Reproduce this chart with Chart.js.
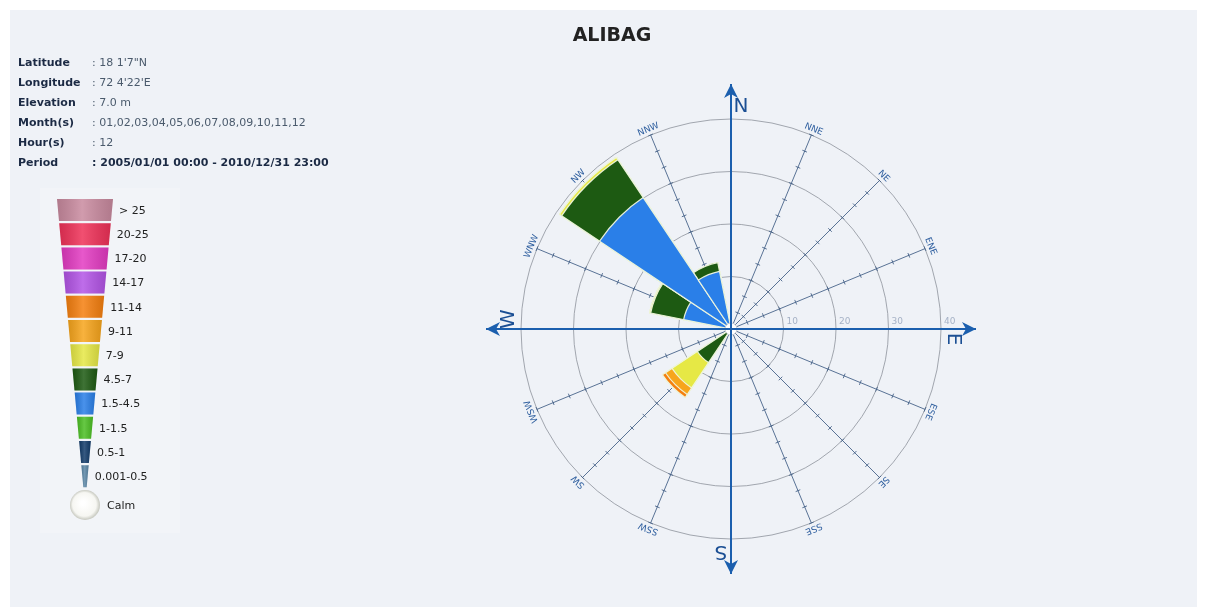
<!DOCTYPE html>
<html>
<head>
<meta charset="utf-8">
<script src="https://cdn.jsdelivr.net/npm/chart.js@4.4.0/dist/chart.umd.min.js"></script>
<style>
  html, body { margin: 0; padding: 0; background: #ffffff; }
  #wrap { position: relative; width: 1208px; height: 607px; }
</style>
</head>
<body>
<div id="wrap"><canvas id="windrose" width="1208" height="607"></canvas></div>
<script>
const stationName = 'ALIBAG';
const infoLabels = ['Latitude', 'Longitude', 'Elevation', 'Month(s)', 'Hour(s)', 'Period'];
const infoValues = [': 18 1\'7"N', ": 72 4'22'E", ': 7.0 m', ': 01,02,03,04,05,06,07,08,09,10,11,12', ': 12', ': 2005/01/01 00:00 - 2010/12/31 23:00'];

const directions = ['N', 'NNE', 'NE', 'ENE', 'E', 'ESE', 'SE', 'SSE', 'S', 'SSW', 'SW', 'WSW', 'W', 'WNW', 'NW', 'NNW'];
const ringTicks = [10, 20, 30, 40];

const speedBins = ['0.001-0.5', '0.5-1', '1-1.5', '1.5-4.5', '4.5-7', '7-9', '9-11', '11-14', '14-17', '17-20', '20-25', '> 25'];
const binColors = ['#5b86a6', '#133c6b', '#4cbf24', '#2a7fe8', '#1d5a12', '#e6e845', '#f7a51c', '#f57f0f', '#b354e6', '#e33bc2', '#ef3158', '#c98a9f'];

// frequency (%) per direction, N .. NNW
const speed_0_05  = [0, 0, 0, 0, 0, 0, 0, 0, 0, 0, 0,   0, 0,   0,   0,    0];
const speed_05_1  = [0, 0, 0, 0, 0, 0, 0, 0, 0, 0, 0,   0, 0,   0,   0,    0];
const speed_1_15  = [0, 0, 0, 0, 0, 0, 0, 0, 0, 0, 0,   0, 0,   0,   0,    0];
const speed_15_45 = [0, 0, 0, 0, 0, 0, 0, 0, 0, 0, 0.3, 0, 0.4, 9.2, 30.1, 11.2];
const speed_45_7  = [0, 0, 0, 0, 0, 0, 0, 0, 0, 0, 7.4, 0, 0.7, 6.4, 8.7,  1.7];
const speed_7_9   = [0, 0, 0, 0, 0, 0, 0, 0, 0, 0, 5.8, 0, 0,   0.2, 0.5,  0];
const speed_9_11  = [0, 0, 0, 0, 0, 0, 0, 0, 0, 0, 1.5, 0, 0,   0,   0,    0];
const speed_11_14 = [0, 0, 0, 0, 0, 0, 0, 0, 0, 0, 0.7, 0, 0,   0,   0,    0];
const speed_14_17 = [0, 0, 0, 0, 0, 0, 0, 0, 0, 0, 0,   0, 0,   0,   0,    0];
const speed_17_20 = [0, 0, 0, 0, 0, 0, 0, 0, 0, 0, 0,   0, 0,   0,   0,    0];
const speed_20_25 = [0, 0, 0, 0, 0, 0, 0, 0, 0, 0, 0,   0, 0,   0,   0,    0];
const speed_25    = [0, 0, 0, 0, 0, 0, 0, 0, 0, 0, 0,   0, 0,   0,   0,    0];

const binValues = [speed_0_05, speed_05_1, speed_1_15, speed_15_45, speed_45_7, speed_7_9,
    speed_9_11, speed_11_14, speed_14_17, speed_17_20, speed_20_25, speed_25];

// polar area arcs all start at the centre, so stack them by hand (inner bins drawn on top)
let running = directions.map(() => 0);
const datasets = binValues.map((vals, k) => {
    running = running.map((v, i) => v + vals[i]);
    return {
        label: speedBins[k],
        data: running.slice(),
        backgroundColor: binColors[k],
        borderColor: 'rgba(238,246,222,0.95)',
        borderWidth: 1.2,
    };
});

(function () {
    const rad = d => d * Math.PI / 180;

    function arrowHead(ctx, x, y, ang) {
        ctx.save();
        ctx.translate(x, y);
        ctx.rotate(ang);
        ctx.beginPath();
        ctx.moveTo(0, 0);
        ctx.lineTo(-14, -7);
        ctx.lineTo(-10, 0);
        ctx.lineTo(-14, 7);
        ctx.closePath();
        ctx.fill();
        ctx.restore();
    }

    const roseDecor = {
        id: 'roseDecor',
        beforeDraw(chart) {
            const ctx = chart.ctx;
            ctx.save();
            ctx.fillStyle = '#ffffff';
            ctx.fillRect(0, 0, chart.width, chart.height);
            ctx.fillStyle = '#eff2f7';
            ctx.fillRect(10, 10, 1187, 597);
            ctx.fillStyle = '#f2f4f8';
            ctx.fillRect(40, 188, 140, 345);
            ctx.restore();
        },
        beforeDatasetsDraw(chart) {
            const ctx = chart.ctx;
            const scale = chart.scales.r;
            const cx = scale.xCenter, cy = scale.yCenter;
            const rMax = scale.getDistanceFromCenterForValue(40);
            ctx.save();
            // direction lines with ticks
            ctx.strokeStyle = 'rgba(62,92,132,0.85)';
            ctx.lineWidth = 1;
            directions.forEach((d, i) => {
                if (i % 4 === 0) return;
                const a = rad(i * 22.5);
                const sx = Math.sin(a), sy = -Math.cos(a);
                ctx.beginPath();
                ctx.moveTo(cx, cy);
                ctx.lineTo(cx + sx * rMax, cy + sy * rMax);
                ctx.stroke();
                for (let k = 1; k <= 12; k++) {
                    const r = scale.getDistanceFromCenterForValue(k * 10 / 3);
                    const px = cx + sx * r, py = cy + sy * r;
                    ctx.beginPath();
                    ctx.moveTo(px - sy * 2.5, py + sx * 2.5);
                    ctx.lineTo(px + sy * 2.5, py - sx * 2.5);
                    ctx.stroke();
                }
                // label
                ctx.save();
                ctx.translate(cx + sx * (rMax + 6), cy + sy * (rMax + 6));
                ctx.rotate(a);
                ctx.fillStyle = '#2f5f9f';
                ctx.font = '9px "DejaVu Sans"';
                ctx.textAlign = 'center';
                ctx.textBaseline = 'middle';
                ctx.fillText(d, 0, 0);
                ctx.restore();
            });
            // ring labels along the east axis
            ctx.fillStyle = '#a6b2c6';
            ctx.font = '9px "DejaVu Sans"';
            ctx.textAlign = 'left';
            ctx.textBaseline = 'middle';
            ringTicks.forEach(v => {
                ctx.fillText(String(v), cx + scale.getDistanceFromCenterForValue(v) + 3, cy - 7);
            });
            ctx.restore();
        },
        afterDatasetsDraw(chart) {
            const ctx = chart.ctx;
            const scale = chart.scales.r;
            const cx = scale.xCenter, cy = scale.yCenter;
            const axisR = scale.getDistanceFromCenterForValue(40) + 35;
            ctx.save();
            // calm circle
            ctx.beginPath();
            ctx.arc(cx, cy, 6, 0, Math.PI * 2);
            ctx.fillStyle = '#ffffff';
            ctx.fill();
            ctx.strokeStyle = '#c8ccd2';
            ctx.lineWidth = 1;
            ctx.stroke();
            // main compass axes
            ctx.strokeStyle = '#1b5fae';
            ctx.fillStyle = '#1b5fae';
            ctx.lineWidth = 2;
            [0, 4, 8, 12].forEach(i => {
                const a = rad(i * 22.5);
                const ex = cx + Math.sin(a) * axisR, ey = cy - Math.cos(a) * axisR;
                ctx.beginPath();
                ctx.moveTo(cx, cy);
                ctx.lineTo(ex, ey);
                ctx.stroke();
                arrowHead(ctx, ex, ey, a - Math.PI / 2);
                ctx.save();
                ctx.translate(cx, cy);
                ctx.rotate(a);
                ctx.fillStyle = '#1b4f94';
                ctx.font = '20px "DejaVu Sans"';
                ctx.textAlign = 'center';
                ctx.textBaseline = 'middle';
                ctx.fillText(directions[i], 10, -axisR + 23);
                ctx.restore();
            });

            // title
            ctx.fillStyle = '#222222';
            ctx.font = 'bold 19px "DejaVu Sans"';
            ctx.textAlign = 'center';
            ctx.textBaseline = 'middle';
            ctx.fillText(stationName, 612, 36);

            // station info
            ctx.textAlign = 'left';
            infoLabels.forEach((lab, i) => {
                const y = 63 + i * 20;
                ctx.fillStyle = '#1b2a44';
                ctx.font = 'bold 11px "DejaVu Sans"';
                ctx.fillText(lab, 18, y);
                const last = i === infoLabels.length - 1;
                ctx.fillStyle = last ? '#1b2a44' : '#4a5a6c';
                ctx.font = (last ? 'bold ' : '') + '11px "DejaVu Sans"';
                ctx.fillText(infoValues[i], 92, y);
            });

            // funnel legend
            const lx = 85, top = 199, bottom = 489, rowH = 24.2;
            const hw = y => 28 - (y - top) * (26.5 / (bottom - top));
            const rows = speedBins.slice().reverse();
            const rowColors = binColors.slice().reverse();
            rows.forEach((lab, k) => {
                const yt = top + k * rowH, yb = yt + rowH - 2.2;
                ctx.beginPath();
                ctx.moveTo(lx - hw(yt), yt);
                ctx.lineTo(lx + hw(yt), yt);
                ctx.lineTo(lx + hw(yb), yb);
                ctx.lineTo(lx - hw(yb), yb);
                ctx.closePath();
                ctx.fillStyle = rowColors[k];
                ctx.fill();
                const g = ctx.createLinearGradient(lx - hw(yt), 0, lx + hw(yt), 0);
                g.addColorStop(0, 'rgba(0,0,0,0.12)');
                g.addColorStop(0.45, 'rgba(255,255,255,0.15)');
                g.addColorStop(1, 'rgba(0,0,0,0.12)');
                ctx.fillStyle = g;
                ctx.fill();
                const ym = (yt + yb) / 2;
                ctx.fillStyle = '#222222';
                ctx.font = '11px "DejaVu Sans"';
                ctx.textBaseline = 'middle';
                ctx.fillText(lab, lx + hw(ym) + 7, ym + 1);
            });
            const calmG = ctx.createRadialGradient(lx - 2, 503, 2, lx, 505, 16);
            calmG.addColorStop(0, '#ffffff');
            calmG.addColorStop(0.7, '#f6f6f2');
            calmG.addColorStop(1, '#b8bab0');
            ctx.beginPath();
            ctx.arc(lx, 505, 15, 0, Math.PI * 2);
            ctx.fillStyle = calmG;
            ctx.fill();
            ctx.fillStyle = '#222222';
            ctx.fillText('Calm', 107, 506);
            ctx.restore();
        }
    };

    const ctx = document.getElementById('windrose');
    new Chart(ctx, {
        type: 'polarArea',
        data: {
            labels: directions,
            datasets: datasets
        },
        options: {
            responsive: false,
            animation: false,
            layout: {
                padding: { left: 521, right: 267, top: 119, bottom: 68 }
            },
            scales: {
                r: {
                    min: 0,
                    max: 40,
                    startAngle: -11.25,
                    ticks: { display: false, stepSize: 10 },
                    grid: { color: 'rgba(135,140,150,0.75)', lineWidth: 1 },
                    angleLines: { display: false },
                    pointLabels: { display: false }
                }
            },
            plugins: {
                legend: { display: false },
                title: { display: false },
                tooltip: {
                    callbacks: {
                        label: function (context) {
                            const v = binValues[context.datasetIndex][context.dataIndex];
                            return context.dataset.label + ' m/s: ' + v + ' %';
                        }
                    }
                }
            }
        },
        plugins: [roseDecor]
    });
})();
</script>
</body>
</html>
